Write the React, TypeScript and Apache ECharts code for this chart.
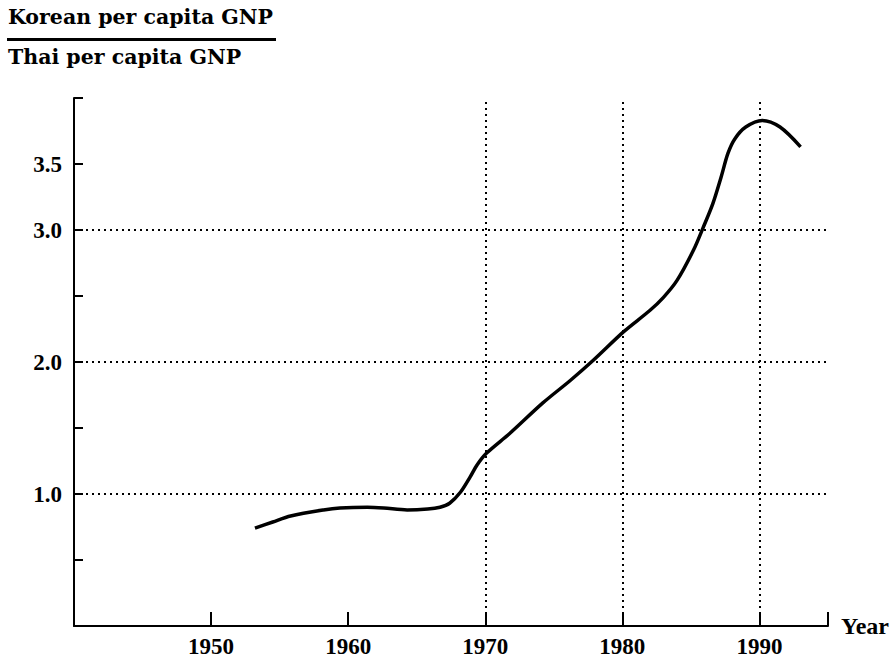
import React, { useEffect, useRef } from "react";
import * as echarts from "echarts";

const years = [1953.2, 1954.5, 1955.8, 1958.2, 1959.4, 1961.4, 1962.6, 1964.3, 1965.8, 1966.7, 1967.4, 1968.2, 1968.9, 1969.4, 1970.1, 1971.8, 1974.2, 1976.2, 1977.9, 1980.1, 1982.0, 1983.0, 1984.0, 1985.2, 1985.9, 1986.6, 1987.2, 1987.7, 1988.2, 1989.0, 1990.2, 1991.5, 1993.0];
const ratio = [0.742, 0.788, 0.833, 0.879, 0.894, 0.9, 0.894, 0.879, 0.886, 0.9, 0.93, 1.015, 1.13, 1.22, 1.31, 1.46, 1.69, 1.86, 2.015, 2.23, 2.39, 2.49, 2.62, 2.85, 3.02, 3.2, 3.4, 3.58, 3.69, 3.78, 3.83, 3.78, 3.63];
const yLabels = ["1.0", "2.0", "3.0", "3.5"];
const xLabels = [1950, 1960, 1970, 1980, 1990];
const vGrid = [1970, 1980, 1990];
const hGrid = [1, 2, 3];
const titleTop = "Korean per capita GNP";
const titleBottom = "Thai per capita GNP";

export default function App() {
  const ref = useRef<HTMLDivElement>(null);
  useEffect(() => {
    if (!ref.current) return;
    const chart = echarts.init(ref.current, null, { renderer: "svg" });
    const tickFont = "Liberation Serif";
    const dotted = { color: "#000", width: 2, type: [2, 4] as any };
    chart.setOption({
      animation: false,
      backgroundColor: "#fff",
      grid: { left: 74, right: 64, top: 98, bottom: 33, containLabel: false },
      xAxis: {
        type: "value",
        min: 1940,
        max: 1995,
        interval: 10,
        name: "Year",
        nameLocation: "end",
        nameGap: 13,
        nameTextStyle: { fontFamily: tickFont, fontWeight: "bold", fontSize: 24, color: "#000" },
        axisLine: { lineStyle: { color: "#000", width: 2 } },
        axisTick: { inside: true, length: 14, lineStyle: { color: "#000", width: 2 } },
        axisLabel: {
          margin: 9,
          fontFamily: tickFont,
          fontWeight: "bold",
          fontSize: 23,
          color: "#000",
          formatter: (v: number) => (xLabels.includes(v) ? String(v) : ""),
        },
        splitLine: { show: false },
      },
      yAxis: {
        type: "value",
        min: 0,
        max: 4,
        interval: 0.5,
        axisLine: { show: true, lineStyle: { color: "#000", width: 2 } },
        axisTick: { show: true, inside: true, length: 9, lineStyle: { color: "#000", width: 2 } },
        axisLabel: {
          margin: 12,
          fontFamily: tickFont,
          fontWeight: "bold",
          fontSize: 23,
          color: "#000",
          formatter: (v: number) => {
            const s = v.toFixed(1);
            return yLabels.includes(s) ? s : "";
          },
        },
        splitLine: { show: false },
      },
      graphic: [
        {
          type: "text",
          x: 8,
          y: 6,
          style: { text: titleTop, font: 'bold 20.5px "DejaVu Serif"', fill: "#000", verticalAlign: "top" },
        },
        {
          type: "line",
          shape: { x1: 7, y1: 39.5, x2: 276, y2: 39.5 },
          style: { stroke: "#000", lineWidth: 3 },
        },
        {
          type: "text",
          x: 8,
          y: 46,
          style: { text: titleBottom, font: 'bold 20.5px "DejaVu Serif"', fill: "#000", verticalAlign: "top" },
        },
      ],
      series: [
        {
          type: "line",
          data: years.map((y, i) => [y, ratio[i]]),
          smooth: 0.3,
          showSymbol: false,
          lineStyle: { color: "#000", width: 3.5 },
          markLine: {
            silent: true,
            symbol: "none",
            label: { show: false },
            lineStyle: dotted,
            data: [
              ...vGrid.map((x) => ({ xAxis: x })),
              ...hGrid.map((y) => ({ yAxis: y })),
            ],
          },
        },
      ],
    });
    return () => chart.dispose();
  }, []);
  return <div ref={ref} style={{ width: 892, height: 659, position: "absolute", left: 0, top: 0 }} />;
}
